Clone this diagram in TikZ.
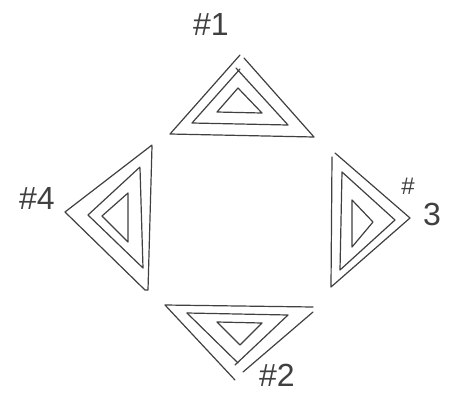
\documentclass[tikz,border=0pt]{standalone}
\usepackage{fontspec}
\setmainfont{Liberation Sans}
\begin{document}
\begin{tikzpicture}[x=0.75pt,y=-0.75pt,
  pen/.style={draw=black!75,line width=0.9pt,line join=round,line cap=round},
  lbl/.style={text=black!75,font=\fontsize{24}{26}\selectfont,inner sep=0pt}]
\useasboundingbox[fill=white] (0,0) rectangle (454,394);
% ---- #1 (top)
\draw[pen] (240,55) -- (170,134) -- (314,137) -- (244,58);
\draw[pen] (240,69) -- (192,123) -- (288,125) -- (236,68);
\draw[pen] (238,88) -- (217,112) -- (262,113) -- cycle;
\node[lbl] (n1) at (211,24) {\#1};
% ---- #4 (left)
\draw[pen] (152,145) -- (65,212) -- (145,290) -- (148,290) -- (152,146);
\draw[pen] (140,167) -- (88,215) -- (143,268) -- (140,168);
\draw[pen] (128,193) -- (102,216) -- (128,242) -- cycle;
\node[lbl] (n4) at (37,198) {\#4};
% ---- #3 (right)
\draw[pen] (332,157) -- (331,287) -- (410,218) -- (335,153);
\draw[pen] (342,172) -- (340,270) -- (395,220) -- cycle;
\draw[pen] (352,200) -- (373,222) -- (352,247) -- cycle;
\node[lbl] (n3a) at (408,186) {\fontsize{18}{20}\selectfont\#};
\node[lbl] (n3b) at (432,214) {3};
% ---- #2 (bottom)
\draw[pen] (235,380) -- (165,305) -- (313,307);
\draw[pen] (313,312) -- (243,372);
\draw[pen] (187,313) -- (288,315) -- (235,365);
\draw[pen] (187,313) -- (238,363);
\draw[pen] (217,322) -- (262,323) -- (240,345) -- cycle;
\node[lbl] (n2) at (277,375) {\#2};
\end{tikzpicture}
\end{document}
